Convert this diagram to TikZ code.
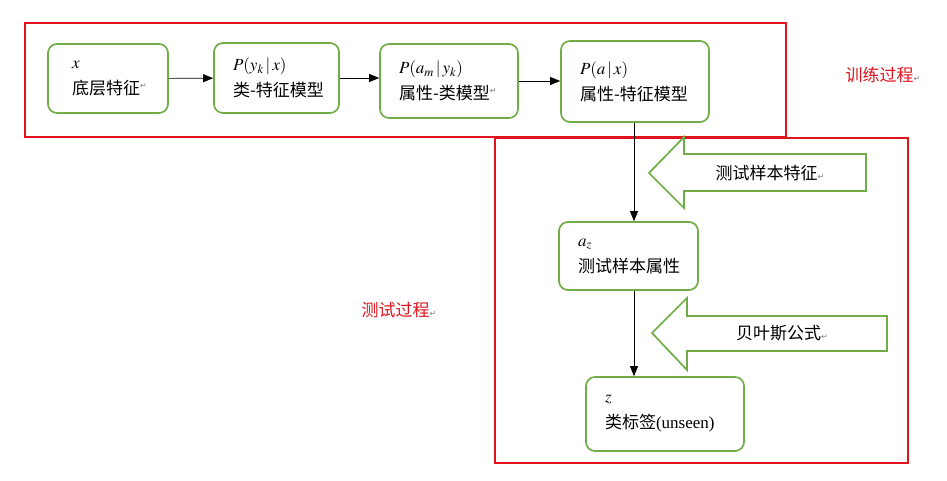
\documentclass[tikz,border=0pt]{standalone}
\usepackage{mathptmx}
\usepackage{fontspec}
\setmainfont{Liberation Serif}
\newfontfamily\cjk{Noto Sans CJK SC}
\newfontfamily\dejavu{DejaVu Sans}
\usepackage{tikz}
\usetikzlibrary{arrows.meta}

\definecolor{boxgreen}{RGB}{112,173,71}
\definecolor{framered}{RGB}{225,20,30}
\newcommand{\retmark}{{\color{gray}\dejavu\fontsize{8}{8}\selectfont ↵}}

\begin{document}
\begin{tikzpicture}[
            x = 1pt, y = -1pt, % pixel grid of the reference
            > = {Triangle[length=10pt,width=8pt]}, % arrow head style
            semithick % line style
        ]

        \tikzstyle{mbox}=[
            draw = boxgreen,
            line width = 1.7pt,
            rounded corners = 9pt,
            fill = white,
            align = left,
            inner xsep = 19pt,
            font = \fontsize{17}{26}\selectfont
        ]
        \tikzstyle{frame}=[draw = framered, line width = 1.6pt]
        \tikzstyle{fatarrow}=[draw = boxgreen, line width = 1.7pt, fill = white]
        \tikzstyle{lbl}=[font = \cjk\fontsize{17}{20}\selectfont]

        \useasboundingbox (0,0) rectangle (947,481);

        % the two process frames
        \draw[frame] (25,23) rectangle (786,137);
        \draw[frame] (495,138) rectangle (908,463);

        % training row
        \node[mbox, inner xsep=24pt, text width=72pt, minimum height=69pt] (feat) at (108,78.5)
            {\mbox{$x$}\\\mbox{\cjk 底层特征\raisebox{6pt}{\retmark}}};
        \node[mbox, text width=87pt, minimum height=70pt] (clsfeat) at (276.5,78)
            {\mbox{$P(y_k\,|\,x)$}\\\mbox{\cjk 类-特征模型}};
        \node[mbox, text width=100pt, minimum height=74pt] (attcls) at (449,81)
            {\mbox{$P(a_m\,|\,y_k)$}\\\mbox{\cjk 属性-类模型\raisebox{6pt}{\retmark}}};
        \node[mbox, text width=110pt, minimum height=81pt] (attfeat) at (635,81.5)
            {\mbox{$P(a\,|\,x)$}\\\mbox{\cjk 属性-特征模型}};

        % testing column
        \node[mbox, text width=101pt, minimum height=68pt] (testatt) at (628.5,256)
            {\mbox{$a_z$}\\\mbox{\cjk 测试样本属性}};
        \node[mbox, text width=120pt, minimum height=74pt] (label) at (665,414)
            {\mbox{$z$}\\\mbox{{\cjk 类标签}(unseen)}};

        \coordinate (mid) at (634,256);

        \path[->] (feat) edge (clsfeat);
        \path[->] (clsfeat.east) edge (clsfeat.east -| attcls.west);
        \path[->] (attcls.east) edge (attcls.east -| attfeat.west);
        \path[->] (attfeat.south -| mid) edge (testatt.north -| mid);
        \path[->] (testatt.south -| mid) edge (label.north -| mid);

        % block arrows
        \draw[fatarrow] (866,154) -- (684,154) -- (684,137) -- (649,173)
            -- (684,208) -- (684,191) -- (866,191) -- cycle;
        \node[lbl] (testfeat) at (770,173) {测试样本特征\retmark};
        \draw[fatarrow] (887,316) -- (687,316) -- (687,298) -- (652,333)
            -- (687,370) -- (687,351) -- (887,351) -- cycle;
        \node[lbl] (bayes) at (782,333) {贝叶斯公式\retmark};

        % process names
        \node[lbl, text=framered] (train) at (883,75) {训练过程\retmark};
        \node[lbl, text=framered] (test) at (399,310) {测试过程\retmark};

  \end{tikzpicture}
\end{document}
